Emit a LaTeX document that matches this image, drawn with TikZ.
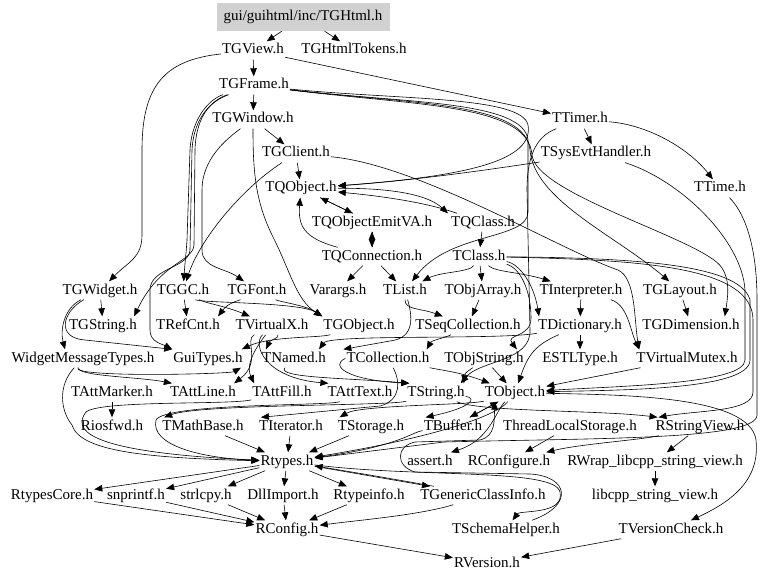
\documentclass[tikz,border=0pt]{standalone}
\usepackage{fontspec}
\setmainfont{Liberation Serif}
\usetikzlibrary{arrows.meta}

\tikzset{
  file/.style={font=\fontsize{15}{17}\selectfont, inner xsep=1pt, inner ysep=2.5pt, text height=10pt, text depth=3pt, yshift=-1.5pt},
  root/.style={file, fill=black!18, minimum width=173pt, minimum height=28pt, yshift=1.5pt},
  dep/.style={-{Triangle[length=8pt,width=6.5pt]}, line width=0.6pt},
}

\begin{document}
\begin{tikzpicture}[x=1pt, y=-1pt]
\useasboundingbox (0,0) rectangle (768,580);

% header files, row by row
\node[root] (html) at (303,17) {gui/guihtml/inc/TGHtml.h};
\node[file] (view) at (253,49) {TGView.h};
\node[file] (tokens) at (354,49) {TGHtmlTokens.h};
\node[file] (frame) at (254,84) {TGFrame.h};
\node[file] (window) at (253,118) {TGWindow.h};
\node[file] (timer) at (580,118) {TTimer.h};
\node[file] (client) at (296,152) {TGClient.h};
\node[file] (sysevt) at (596,152) {TSysEvtHandler.h};
\node[file] (qobject) at (301,187) {TQObject.h};
\node[file] (ttime) at (720,187) {TTime.h};
\node[file] (emitva) at (372,221) {TQObjectEmitVA.h};
\node[file] (qclass) at (483,221) {TQClass.h};
\node[file] (qconn) at (372,255) {TQConnection.h};
\node[file] (tclass) at (479,255) {TClass.h};
\node[file] (widget) at (100,289) {TGWidget.h};
\node[file] (gc) at (183,289) {TGGC.h};
\node[file] (font) at (257,289) {TGFont.h};
\node[file] (varargs) at (338,289) {Varargs.h};
\node[file] (tlist) at (405,289) {TList.h};
\node[file] (objarray) at (483,289) {TObjArray.h};
\node[file] (interp) at (581,289) {TInterpreter.h};
\node[file] (layout) at (680,289) {TGLayout.h};
\node[file] (gstring) at (103,324) {TGString.h};
\node[file] (refcnt) at (188,324) {TRefCnt.h};
\node[file] (virtx) at (272,324) {TVirtualX.h};
\node[file] (gobject) at (359,324) {TGObject.h};
\node[file] (seqcoll) at (468,324) {TSeqCollection.h};
\node[file] (dict) at (580,324) {TDictionary.h};
\node[file] (dim) at (691,324) {TGDimension.h};
\node[file] (wmt) at (83,357) {WidgetMessageTypes.h};
\node[file] (guitypes) at (208,357) {GuiTypes.h};
\node[file] (named) at (294,357) {TNamed.h};
\node[file] (coll) at (388,357) {TCollection.h};
\node[file] (objstr) at (484,357) {TObjString.h};
\node[file] (estl) at (580,357) {ESTLType.h};
\node[file] (vmutex) at (687,357) {TVirtualMutex.h};
\node[file] (attmarker) at (112,391) {TAttMarker.h};
\node[file] (attline) at (203,391) {TAttLine.h};
\node[file] (attfill) at (282,391) {TAttFill.h};
\node[file] (atttext) at (360,391) {TAttText.h};
\node[file] (tstring) at (436,391) {TString.h};
\node[file] (tobject) at (515,391) {TObject.h};
\node[file] (riosfwd) at (112,425) {Riosfwd.h};
\node[file] (mathbase) at (203,425) {TMathBase.h};
\node[file] (iterator) at (291,425) {TIterator.h};
\node[file] (storage) at (371,425) {TStorage.h};
\node[file] (buffer) at (453,425) {TBuffer.h};
\node[file] (tls) at (570,425) {ThreadLocalStorage.h};
\node[file] (strview) at (700,425) {RStringView.h};
\node[file] (rtypes) at (287,460) {Rtypes.h};
\node[file] (tassert) at (430,460) {assert.h};
\node[file] (rconfigure) at (509,460) {RConfigure.h};
\node[file] (rwrap) at (655,460) {RWrap\_libcpp\_string\_view.h};
\node[file] (rtcore) at (52,494) {RtypesCore.h};
\node[file] (snprintf) at (136,494) {snprintf.h};
\node[file] (strlcpy) at (206,494) {strlcpy.h};
\node[file] (dllimport) at (283,494) {DllImport.h};
\node[file] (rtypeinfo) at (369,494) {Rtypeinfo.h};
\node[file] (genclass) at (483,494) {TGenericClassInfo.h};
\node[file] (libcpp) at (655,494) {libcpp\_string\_view.h};
\node[file] (rconfig) at (287,528) {RConfig.h};
\node[file] (schema) at (506,528) {TSchemaHelper.h};
\node[file] (vcheck) at (671,528) {TVersionCheck.h};
\node[file] (rversion) at (487,562) {RVersion.h};

% TGHtml.h and the frame classes
\draw[dep] (html) -- (view);
\draw[dep] (html) -- (tokens);
\draw[dep] (view) -- (frame);
\draw[dep] (view) -- (timer);
\draw[dep] (view) .. controls (165,60) and (142,85) .. (142,150) -- (142,235) .. controls (142,258) and (128,262) .. (widget);
\draw[dep] (frame) -- (window);
\draw[dep] (frame) .. controls (400,100) and (522,96) .. (528,125) .. controls (534,160) and (470,176) .. (qobject);
\draw[dep] (frame) .. controls (400,103) and (524,100) .. (528,140) -- (528,212) .. controls (528,240) and (450,232) .. (tlist);
\draw[dep] (frame) .. controls (410,104) and (526,102) .. (530,150) .. controls (534,200) and (615,235) .. (layout);
\draw[dep] (frame) .. controls (420,106) and (528,104) .. (532,155) .. controls (536,195) and (705,240) .. (722,268) .. controls (730,280) and (728,296) .. ([xshift=-16pt]dim.north east);
\draw[dep] (frame) .. controls (212,98) and (192,115) .. (190,150) -- (187,240) .. controls (186,255) and (185,262) .. (gc);
\draw[dep] (frame) .. controls (215,99) and (196,112) .. (195,150) -- (194,245) .. controls (193,262) and (160,262) .. ([xshift=-4pt]gstring.north east);
\draw[dep] (frame) .. controls (214,100) and (194,114) .. (192,150) -- (190,250) .. controls (189,268) and (150,268) .. (150,290) -- (150,330) .. controls (150,342) and (162,344) .. (guitypes.north west);
\draw[dep] (window) -- (client);
\draw[dep] (window) .. controls (253,170) and (255,200) .. (272,235) .. controls (290,270) and (296,300) .. (gobject.north west);
\draw[dep] (window) .. controls (225,140) and (202,160) .. (202,190) -- (202,250) .. controls (202,268) and (225,268) .. (font);

% TGClient.h and the timer
\draw[dep] (client) -- (qobject);
\draw[dep] (client) .. controls (240,190) and (200,240) .. (gc);
\draw[dep] (client) .. controls (420,165) and (560,250) .. (618,270) .. controls (636,278) and (634,320) .. ([xshift=4pt]vmutex.north west);
\draw[dep] (timer) -- (sysevt);
\draw[dep] (timer) .. controls (650,125) and (690,150) .. (ttime);
\draw[dep] (timer) .. controls (540,135) and (527,150) .. (527,190) -- (530,330) .. controls (531,362) and (480,360) .. ([xshift=-5pt]tstring.north east);
\draw[dep] (sysevt) .. controls (500,168) and (420,180) .. (qobject);
\draw[dep] (sysevt) .. controls (680,180) and (742,240) .. (745,290) -- (745,360) .. controls (745,384) and (620,386) .. (tobject);
\draw[dep] (ttime) .. controls (742,210) and (757,240) .. (757,300) -- (757,415) .. controls (757,440) and (600,438) .. (444,442) -- (rtypes);

% signals and slots
\draw[dep] (qobject) -- (emitva);
\draw[dep] (emitva) -- (qobject);
\draw[dep] (emitva) -- (qconn);
\draw[dep] (qconn) -- (emitva);
\draw[dep] (qconn) .. controls (303,238) and (298,225) .. (qobject);
\draw[dep] (qconn) -- (varargs);
\draw[dep] (qconn) -- (tlist);
\draw[dep] (qobject) .. controls (380,188) and (425,192) .. ([xshift=-2pt]qclass.north west);
\draw[dep] (qclass) .. controls (425,202) and (380,196) .. (qobject);
\draw[dep] (qclass) -- (tclass);

% TClass.h
\draw[dep] (tclass) -- (objarray);
\draw[dep] (tclass) .. controls (470,272) and (440,272) .. (tlist);
\draw[dep] (tclass) .. controls (495,272) and (520,272) .. (interp);
\draw[dep] (tclass) .. controls (520,264) and (534,285) .. ([xshift=2pt]dict.north west);
\draw[dep] (tclass) .. controls (520,268) and (531,290) .. (531,318) .. controls (531,338) and (505,334) .. ([xshift=-8pt]objstr.north east);
\draw[dep] (tclass) .. controls (620,258) and (740,262) .. (750,300) -- (750,360) .. controls (750,390) and (620,390) .. (tobject);
\draw[dep] (tclass) .. controls (640,260) and (753,266) .. (753,320) -- (753,392) .. controls (753,412) and (700,410) .. ([xshift=4pt]strview.north west);

% collections
\draw[dep] (objarray) -- (seqcoll);
\draw[dep] (tlist) .. controls (405,310) and (420,308) .. (seqcoll);
\draw[dep] (tlist) .. controls (412,315) and (416,338) .. (390,341) -- ([xshift=-2pt]coll.north west);
\draw[dep] (seqcoll) .. controls (445,338) and (432,340) .. ([xshift=-4pt]coll.north east);
\draw[dep] (interp) -- (dict);
\draw[dep] (interp) .. controls (628,305) and (630,330) .. ([xshift=4pt]vmutex.north west);
\draw[dep] (layout) -- (dim);
\draw[dep] (dict) -- (estl);
\draw[dep] (dict) .. controls (500,340) and (330,334) .. ([xshift=-8pt]named.north east);
\draw[dep] (dict) .. controls (535,345) and (528,355) .. (tobject);
\draw[dep] (objstr) -- (tobject);
\draw[dep] (objstr) .. controls (470,370) and (465,372) .. ([xshift=-2pt]tstring.north east);
\draw[dep] (coll.west) .. controls (330,365) and (345,380) .. ([xshift=3pt]tstring.north west);
\draw[dep] (coll) .. controls (440,370) and (460,372) .. ([xshift=6pt]tobject.north west);
\draw[dep] (coll) .. controls (400,380) and (402,400) .. (380,406) -- ([xshift=3pt]iterator.north west);
\draw[dep] (vmutex) -- (tobject);

% GUI basics
\draw[dep] (widget) -- (gstring);
\draw[dep] (widget) .. controls (64,308) and (60,330) .. ([xshift=-18pt]wmt.north);
\draw[dep] (widget) .. controls (62,312) and (56,338) .. (85,340) -- (guitypes.north west);
\draw[dep] (gc) -- (refcnt);
\draw[dep] (gc) .. controls (205,303) and (225,306) .. (virtx);
\draw[dep] (gc) .. controls (200,303) and (300,302) .. (gobject.north west);
\draw[dep] (font) .. controls (240,300) and (228,303) .. ([xshift=-3pt]refcnt.north east);
\draw[dep] (font) .. controls (280,302) and (305,305) .. (gobject.north west);
\draw[dep] (gobject) .. controls (320,338) and (270,336) .. ([xshift=-2pt]guitypes.north east);
\draw[dep] (virtx) .. controls (280,338) and (270,340) .. ([xshift=5pt]named.north west);
\draw[dep] (virtx) .. controls (244,340) and (262,362) .. ([xshift=-3pt]attline.north east);
\draw[dep] (virtx) .. controls (262,340) and (244,362) .. ([xshift=3pt]attfill.north west);
\draw[dep] (virtx) .. controls (252,345) and (265,378) .. ([xshift=2pt]atttext.north west);
\draw[dep] (wmt) .. controls (75,376) and (140,377) .. ([xshift=3pt]attline.north west);
\draw[dep] (wmt) .. controls (72,378) and (230,374) .. ([xshift=-3pt]guitypes.south east);
\draw[dep] (wmt) .. controls (58,385) and (60,410) .. (72,425) .. controls (80,452) and (150,458) .. (rtypes);
\draw[dep] (named) .. controls (275,378) and (350,378) .. ([xshift=3pt]tstring.north west);

% core headers
\draw[dep] (attmarker) -- (riosfwd);
\draw[dep] (attfill) .. controls (230,405) and (100,400) .. (86,412) .. controls (74,428) and (78,452) .. (rtypes);
\draw[dep] (atttext) .. controls (330,406) and (165,403) .. (156,420) .. controls (150,445) and (200,458) .. (rtypes);
\draw[dep] (tstring) .. controls (390,406) and (200,404) .. ([xshift=3pt]mathbase.north west);
\draw[dep] (tstring) .. controls (480,412) and (600,410) .. ([xshift=3pt]strview.north west);
\draw[dep] (tstring) .. controls (478,398) and (470,408) .. ([xshift=3pt]buffer.north west);
\draw[dep] (tobject) .. controls (470,405) and (360,405) .. ([xshift=3pt]storage.north west);
\draw[dep] (tobject) .. controls (495,418) and (420,440) .. (rtypes);
\draw[dep] (tobject) .. controls (496,410) and (490,440) .. ([xshift=-3pt]tassert.north east);
\draw[dep] (tobject) .. controls (620,395) and (750,395) .. (756,440) .. controls (760,478) and (735,500) .. (vcheck);
\draw[dep] (tobject) -- (buffer);
\draw[dep] (buffer) -- (tobject);
\draw[dep] (buffer) .. controls (412,432) and (400,446) .. (rtypes);
\draw[dep] (mathbase) -- (rtypes);
\draw[dep] (iterator) -- (rtypes);
\draw[dep] (storage) -- (rtypes);
\draw[dep] (tls) -- (rconfigure);
\draw[dep] (strview) .. controls (640,440) and (580,444) .. (rconfigure);
\draw[dep] (strview) -- (rwrap);
\draw[dep] (rwrap) -- (libcpp);

% Rtypes.h and below
\draw[dep] (rtypes) -- (rtcore);
\draw[dep] (rtypes) -- (snprintf);
\draw[dep] (rtypes) -- (strlcpy);
\draw[dep] (rtypes) -- (dllimport);
\draw[dep] (rtypes) -- (rtypeinfo);
\draw[dep] (rtypes) -- (genclass);
\draw[dep] (genclass) .. controls (400,480) and (340,470) .. (rtypes);
\draw[dep] (rtypes) .. controls (420,478) and (555,468) .. (560,492) .. controls (565,515) and (520,510) .. (schema);
\draw[dep] (schema) .. controls (575,505) and (568,476) .. (530,474) -- (415,472) .. controls (395,466) and (396,446) .. (415,442) -- (480,440) .. controls (496,436) and (494,420) .. ([xshift=-20pt]tobject.south);
\draw[dep] (rtcore) -- (rconfig);
\draw[dep] (snprintf) -- (rconfig);
\draw[dep] (strlcpy) -- (rconfig);
\draw[dep] (dllimport) -- (rconfig);
\draw[dep] (rtypeinfo) -- (rconfig);
\draw[dep] (genclass) .. controls (420,515) and (360,520) .. (rconfig);
\draw[dep] (rconfig) -- (rversion);
\draw[dep] (vcheck) -- (rversion);
\end{tikzpicture}
\end{document}
